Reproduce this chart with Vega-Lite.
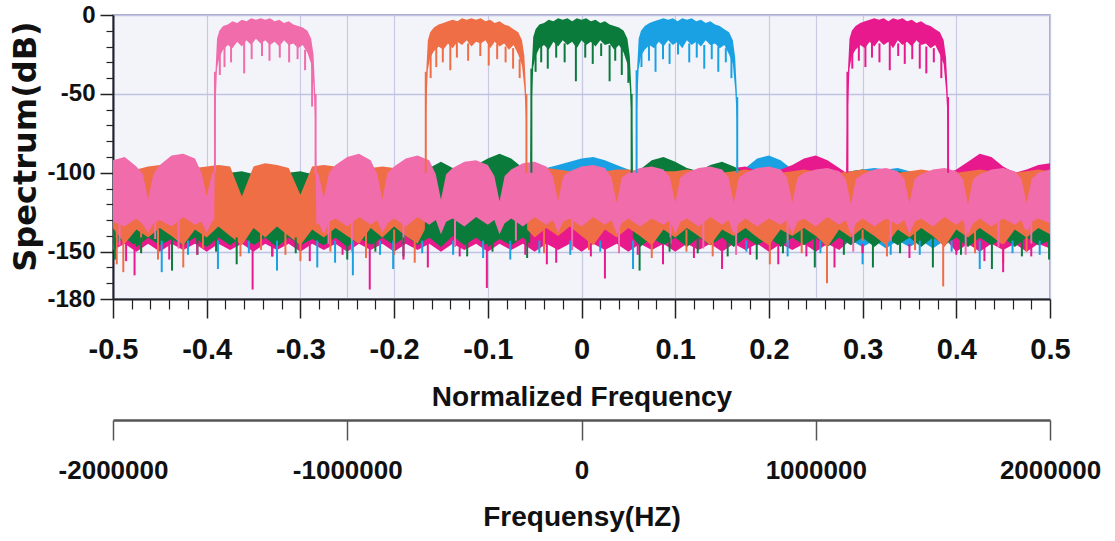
{
"$schema": "https://vega.github.io/schema/vega-lite/v6.json",
"width": 937, "height": 284,
"autosize": "none",
"padding": {"left": 113, "top": 15, "right": 65, "bottom": 242},
"background": "white",
"config": {"view": {"fill": "#F3F4FA", "stroke": "#8A90B8", "strokeWidth": 1.5}},
"datasets": {
"floor": [
{"s":"P","f":-0.5,"hi":-92,"lo":-131},{"s":"P","f":-0.4875,"hi":-90,"lo":-134},{"s":"P","f":-0.475,"hi":-96,"lo":-129},{"s":"P","f":-0.468,"hi":-101,"lo":-133},{"s":"P","f":-0.4625,"hi":-117,"lo":-138},{"s":"P","f":-0.457,"hi":-101,"lo":-132},{"s":"P","f":-0.45,"hi":-95,"lo":-130},{"s":"P","f":-0.4375,"hi":-89,"lo":-134},{"s":"P","f":-0.425,"hi":-88,"lo":-128},{"s":"P","f":-0.4125,"hi":-91,"lo":-133},{"s":"P","f":-0.4055,"hi":-100,"lo":-131},{"s":"P","f":-0.4,"hi":-115,"lo":-138},{"s":"P","f":-0.3945,"hi":-101,"lo":-131},{"s":"P","f":-0.392,"hi":-99,"lo":-130},
{"s":"P","f":-0.3908,"hi":-38,"lo":-62},{"s":"P","f":-0.389,"hi":-15,"lo":-34},{"s":"P","f":-0.3865,"hi":-10,"lo":-27},{"s":"P","f":-0.3825,"hi":-7,"lo":-22},{"s":"P","f":-0.3775,"hi":-6,"lo":-19},{"s":"P","f":-0.3725,"hi":-4,"lo":-21},{"s":"P","f":-0.3675,"hi":-5,"lo":-17},{"s":"P","f":-0.3625,"hi":-3,"lo":-20},{"s":"P","f":-0.3575,"hi":-4,"lo":-16},{"s":"P","f":-0.3525,"hi":-2,"lo":-19},{"s":"P","f":-0.3475,"hi":-3,"lo":-15},{"s":"P","f":-0.3425,"hi":-2,"lo":-18},{"s":"P","f":-0.3375,"hi":-3,"lo":-16},{"s":"P","f":-0.3325,"hi":-2,"lo":-19},{"s":"P","f":-0.3275,"hi":-4,"lo":-17},{"s":"P","f":-0.3225,"hi":-3,"lo":-20},{"s":"P","f":-0.3175,"hi":-5,"lo":-16},{"s":"P","f":-0.3125,"hi":-4,"lo":-19},{"s":"P","f":-0.3075,"hi":-6,"lo":-18},{"s":"P","f":-0.3025,"hi":-7,"lo":-21},{"s":"P","f":-0.2975,"hi":-8,"lo":-19},{"s":"P","f":-0.2925,"hi":-10,"lo":-24},{"s":"P","f":-0.2885,"hi":-15,"lo":-31},{"s":"P","f":-0.286,"hi":-25,"lo":-45},{"s":"P","f":-0.2843,"hi":-48,"lo":-66},
{"s":"P","f":-0.283,"hi":-100,"lo":-133},{"s":"P","f":-0.2805,"hi":-101,"lo":-132},{"s":"P","f":-0.275,"hi":-116,"lo":-139},{"s":"P","f":-0.2695,"hi":-100,"lo":-131},{"s":"P","f":-0.2625,"hi":-95,"lo":-129},{"s":"P","f":-0.25,"hi":-90,"lo":-134},{"s":"P","f":-0.2375,"hi":-88,"lo":-128},{"s":"P","f":-0.225,"hi":-92,"lo":-133},{"s":"P","f":-0.218,"hi":-101,"lo":-130},{"s":"P","f":-0.2125,"hi":-117,"lo":-138},{"s":"P","f":-0.207,"hi":-100,"lo":-132},{"s":"P","f":-0.2,"hi":-96,"lo":-129},{"s":"P","f":-0.1875,"hi":-91,"lo":-134},{"s":"P","f":-0.175,"hi":-89,"lo":-128},{"s":"P","f":-0.1625,"hi":-92,"lo":-133},{"s":"P","f":-0.1555,"hi":-101,"lo":-130},{"s":"P","f":-0.15,"hi":-117,"lo":-139},{"s":"P","f":-0.1445,"hi":-101,"lo":-131},{"s":"P","f":-0.1375,"hi":-97,"lo":-129},{"s":"P","f":-0.125,"hi":-93,"lo":-134},{"s":"P","f":-0.1125,"hi":-92,"lo":-128},{"s":"P","f":-0.1,"hi":-95,"lo":-133},{"s":"P","f":-0.093,"hi":-102,"lo":-130},{"s":"P","f":-0.0875,"hi":-118,"lo":-139},{"s":"P","f":-0.082,"hi":-102,"lo":-132},{"s":"P","f":-0.075,"hi":-98,"lo":-129},{"s":"P","f":-0.0625,"hi":-94,"lo":-134},{"s":"P","f":-0.05,"hi":-93,"lo":-128},{"s":"P","f":-0.0375,"hi":-96,"lo":-133},{"s":"P","f":-0.0305,"hi":-102,"lo":-130},{"s":"P","f":-0.025,"hi":-118,"lo":-138},{"s":"P","f":-0.0195,"hi":-102,"lo":-131},{"s":"P","f":-0.0125,"hi":-99,"lo":-129},{"s":"P","f":0,"hi":-96,"lo":-134},{"s":"P","f":0.0125,"hi":-95,"lo":-128},{"s":"P","f":0.025,"hi":-97,"lo":-133},{"s":"P","f":0.032,"hi":-103,"lo":-130},{"s":"P","f":0.0375,"hi":-119,"lo":-139},{"s":"P","f":0.043,"hi":-103,"lo":-132},{"s":"P","f":0.05,"hi":-100,"lo":-129},{"s":"P","f":0.0625,"hi":-97,"lo":-134},{"s":"P","f":0.075,"hi":-96,"lo":-129},{"s":"P","f":0.0875,"hi":-98,"lo":-133},{"s":"P","f":0.0945,"hi":-103,"lo":-130},{"s":"P","f":0.1,"hi":-119,"lo":-139},{"s":"P","f":0.1055,"hi":-103,"lo":-131},{"s":"P","f":0.1125,"hi":-100,"lo":-129},{"s":"P","f":0.125,"hi":-97,"lo":-134},{"s":"P","f":0.1375,"hi":-96,"lo":-128},{"s":"P","f":0.15,"hi":-98,"lo":-133},{"s":"P","f":0.157,"hi":-103,"lo":-130},{"s":"P","f":0.1625,"hi":-119,"lo":-139},{"s":"P","f":0.168,"hi":-103,"lo":-132},{"s":"P","f":0.175,"hi":-100,"lo":-129},{"s":"P","f":0.1875,"hi":-97,"lo":-134},{"s":"P","f":0.2,"hi":-96,"lo":-129},{"s":"P","f":0.2125,"hi":-98,"lo":-133},{"s":"P","f":0.2195,"hi":-103,"lo":-130},{"s":"P","f":0.225,"hi":-119,"lo":-139},{"s":"P","f":0.2305,"hi":-103,"lo":-131},{"s":"P","f":0.2375,"hi":-100,"lo":-129},{"s":"P","f":0.25,"hi":-98,"lo":-134},{"s":"P","f":0.2625,"hi":-97,"lo":-128},{"s":"P","f":0.275,"hi":-99,"lo":-133},{"s":"P","f":0.282,"hi":-104,"lo":-130},{"s":"P","f":0.2875,"hi":-120,"lo":-139},{"s":"P","f":0.293,"hi":-104,"lo":-132},{"s":"P","f":0.3,"hi":-101,"lo":-129},{"s":"P","f":0.3125,"hi":-98,"lo":-134},{"s":"P","f":0.325,"hi":-97,"lo":-129},{"s":"P","f":0.3375,"hi":-99,"lo":-133},{"s":"P","f":0.3445,"hi":-104,"lo":-130},{"s":"P","f":0.35,"hi":-119,"lo":-139},{"s":"P","f":0.3555,"hi":-104,"lo":-131},{"s":"P","f":0.3625,"hi":-101,"lo":-129},{"s":"P","f":0.375,"hi":-98,"lo":-134},{"s":"P","f":0.3875,"hi":-97,"lo":-128},{"s":"P","f":0.4,"hi":-99,"lo":-133},{"s":"P","f":0.407,"hi":-104,"lo":-130},{"s":"P","f":0.4125,"hi":-120,"lo":-139},{"s":"P","f":0.418,"hi":-104,"lo":-132},{"s":"P","f":0.425,"hi":-101,"lo":-129},{"s":"P","f":0.4375,"hi":-98,"lo":-134},{"s":"P","f":0.45,"hi":-97,"lo":-129},{"s":"P","f":0.4625,"hi":-99,"lo":-133},{"s":"P","f":0.4695,"hi":-104,"lo":-130},{"s":"P","f":0.475,"hi":-119,"lo":-139},{"s":"P","f":0.4805,"hi":-104,"lo":-131},{"s":"P","f":0.4875,"hi":-100,"lo":-129},{"s":"P","f":0.5,"hi":-98,"lo":-132},

{"s":"O","f":-0.5,"hi":-97,"lo":-135},{"s":"O","f":-0.4875,"hi":-113,"lo":-145},{"s":"O","f":-0.475,"hi":-98,"lo":-136},{"s":"O","f":-0.4625,"hi":-96,"lo":-141},{"s":"O","f":-0.45,"hi":-95,"lo":-135},{"s":"O","f":-0.4375,"hi":-96,"lo":-140},{"s":"O","f":-0.425,"hi":-114,"lo":-146},{"s":"O","f":-0.4125,"hi":-97,"lo":-136},{"s":"O","f":-0.4,"hi":-96,"lo":-141},{"s":"O","f":-0.3875,"hi":-95,"lo":-134},{"s":"O","f":-0.375,"hi":-96,"lo":-140},{"s":"O","f":-0.3625,"hi":-115,"lo":-146},{"s":"O","f":-0.35,"hi":-96,"lo":-135},{"s":"O","f":-0.3375,"hi":-94,"lo":-141},{"s":"O","f":-0.325,"hi":-95,"lo":-134},{"s":"O","f":-0.3125,"hi":-97,"lo":-140},{"s":"O","f":-0.3,"hi":-114,"lo":-146},{"s":"O","f":-0.2875,"hi":-96,"lo":-136},{"s":"O","f":-0.275,"hi":-95,"lo":-141},{"s":"O","f":-0.2625,"hi":-96,"lo":-135},{"s":"O","f":-0.25,"hi":-97,"lo":-140},{"s":"O","f":-0.2375,"hi":-114,"lo":-145},{"s":"O","f":-0.225,"hi":-97,"lo":-135},{"s":"O","f":-0.2125,"hi":-96,"lo":-141},{"s":"O","f":-0.2,"hi":-97,"lo":-134},{"s":"O","f":-0.1875,"hi":-98,"lo":-140},{"s":"O","f":-0.175,"hi":-112,"lo":-145},{"s":"O","f":-0.1672,"hi":-99,"lo":-136},
{"s":"O","f":-0.1658,"hi":-37,"lo":-60},{"s":"O","f":-0.164,"hi":-16,"lo":-35},{"s":"O","f":-0.1615,"hi":-11,"lo":-27},{"s":"O","f":-0.1575,"hi":-8,"lo":-23},{"s":"O","f":-0.1525,"hi":-6,"lo":-20},{"s":"O","f":-0.1475,"hi":-5,"lo":-22},{"s":"O","f":-0.1425,"hi":-4,"lo":-18},{"s":"O","f":-0.1375,"hi":-3,"lo":-21},{"s":"O","f":-0.1325,"hi":-4,"lo":-17},{"s":"O","f":-0.1275,"hi":-2,"lo":-19},{"s":"O","f":-0.1225,"hi":-3,"lo":-16},{"s":"O","f":-0.1175,"hi":-2,"lo":-20},{"s":"O","f":-0.1125,"hi":-3,"lo":-17},{"s":"O","f":-0.1075,"hi":-2,"lo":-18},{"s":"O","f":-0.1025,"hi":-4,"lo":-16},{"s":"O","f":-0.0975,"hi":-3,"lo":-21},{"s":"O","f":-0.0925,"hi":-5,"lo":-17},{"s":"O","f":-0.0875,"hi":-4,"lo":-20},{"s":"O","f":-0.0825,"hi":-6,"lo":-18},{"s":"O","f":-0.0775,"hi":-7,"lo":-22},{"s":"O","f":-0.0725,"hi":-9,"lo":-19},{"s":"O","f":-0.0675,"hi":-11,"lo":-25},{"s":"O","f":-0.0635,"hi":-16,"lo":-32},{"s":"O","f":-0.061,"hi":-26,"lo":-46},{"s":"O","f":-0.0593,"hi":-47,"lo":-64},
{"s":"O","f":-0.058,"hi":-99,"lo":-136},{"s":"O","f":-0.05,"hi":-98,"lo":-141},{"s":"O","f":-0.0375,"hi":-97,"lo":-135},{"s":"O","f":-0.025,"hi":-98,"lo":-140},{"s":"O","f":-0.0125,"hi":-99,"lo":-134},{"s":"O","f":0,"hi":-98,"lo":-140},{"s":"O","f":0.0125,"hi":-115,"lo":-146},{"s":"O","f":0.025,"hi":-99,"lo":-136},{"s":"O","f":0.0375,"hi":-98,"lo":-141},{"s":"O","f":0.05,"hi":-98,"lo":-135},{"s":"O","f":0.0625,"hi":-99,"lo":-140},{"s":"O","f":0.075,"hi":-115,"lo":-146},{"s":"O","f":0.0875,"hi":-99,"lo":-136},{"s":"O","f":0.1,"hi":-99,"lo":-141},{"s":"O","f":0.1125,"hi":-98,"lo":-135},{"s":"O","f":0.125,"hi":-99,"lo":-140},{"s":"O","f":0.1375,"hi":-116,"lo":-146},{"s":"O","f":0.15,"hi":-100,"lo":-136},{"s":"O","f":0.1625,"hi":-99,"lo":-140},{"s":"O","f":0.175,"hi":-98,"lo":-135},{"s":"O","f":0.1875,"hi":-99,"lo":-141},{"s":"O","f":0.2,"hi":-116,"lo":-146},{"s":"O","f":0.2125,"hi":-100,"lo":-136},{"s":"O","f":0.225,"hi":-99,"lo":-140},{"s":"O","f":0.2375,"hi":-98,"lo":-135},{"s":"O","f":0.25,"hi":-99,"lo":-140},{"s":"O","f":0.2625,"hi":-116,"lo":-147},{"s":"O","f":0.275,"hi":-100,"lo":-136},{"s":"O","f":0.2875,"hi":-99,"lo":-141},{"s":"O","f":0.3,"hi":-98,"lo":-135},{"s":"O","f":0.3125,"hi":-99,"lo":-140},{"s":"O","f":0.325,"hi":-116,"lo":-146},{"s":"O","f":0.3375,"hi":-100,"lo":-136},{"s":"O","f":0.35,"hi":-99,"lo":-141},{"s":"O","f":0.3625,"hi":-98,"lo":-135},{"s":"O","f":0.375,"hi":-99,"lo":-140},{"s":"O","f":0.3875,"hi":-116,"lo":-147},{"s":"O","f":0.4,"hi":-100,"lo":-136},{"s":"O","f":0.4125,"hi":-99,"lo":-141},{"s":"O","f":0.425,"hi":-98,"lo":-135},{"s":"O","f":0.4375,"hi":-99,"lo":-140},{"s":"O","f":0.45,"hi":-116,"lo":-146},{"s":"O","f":0.4625,"hi":-100,"lo":-136},{"s":"O","f":0.475,"hi":-99,"lo":-141},{"s":"O","f":0.4875,"hi":-98,"lo":-135},{"s":"O","f":0.5,"hi":-99,"lo":-139},

{"s":"G","f":-0.5,"hi":-101,"lo":-146},{"s":"G","f":-0.4875,"hi":-100,"lo":-141},{"s":"G","f":-0.475,"hi":-102,"lo":-147},{"s":"G","f":-0.4625,"hi":-99,"lo":-141},{"s":"G","f":-0.45,"hi":-101,"lo":-146},{"s":"G","f":-0.4375,"hi":-100,"lo":-142},{"s":"G","f":-0.425,"hi":-102,"lo":-146},{"s":"G","f":-0.4125,"hi":-100,"lo":-141},{"s":"G","f":-0.4,"hi":-99,"lo":-147},{"s":"G","f":-0.3875,"hi":-101,"lo":-141},{"s":"G","f":-0.375,"hi":-100,"lo":-146},{"s":"G","f":-0.3625,"hi":-99,"lo":-140},{"s":"G","f":-0.35,"hi":-101,"lo":-146},{"s":"G","f":-0.3375,"hi":-100,"lo":-141},{"s":"G","f":-0.325,"hi":-102,"lo":-147},{"s":"G","f":-0.3125,"hi":-100,"lo":-141},{"s":"G","f":-0.3,"hi":-99,"lo":-146},{"s":"G","f":-0.2875,"hi":-101,"lo":-142},{"s":"G","f":-0.275,"hi":-100,"lo":-146},{"s":"G","f":-0.2625,"hi":-102,"lo":-141},{"s":"G","f":-0.25,"hi":-100,"lo":-147},{"s":"G","f":-0.2375,"hi":-101,"lo":-141},{"s":"G","f":-0.225,"hi":-99,"lo":-146},{"s":"G","f":-0.2125,"hi":-100,"lo":-141},{"s":"G","f":-0.2,"hi":-102,"lo":-146},{"s":"G","f":-0.1875,"hi":-100,"lo":-140},{"s":"G","f":-0.175,"hi":-99,"lo":-146},{"s":"G","f":-0.1625,"hi":-97,"lo":-141},{"s":"G","f":-0.15,"hi":-93,"lo":-147},{"s":"G","f":-0.1375,"hi":-97,"lo":-140},{"s":"G","f":-0.125,"hi":-98,"lo":-146},{"s":"G","f":-0.1125,"hi":-95,"lo":-141},{"s":"G","f":-0.1,"hi":-91,"lo":-147},{"s":"G","f":-0.0875,"hi":-88,"lo":-142},{"s":"G","f":-0.075,"hi":-91,"lo":-146},{"s":"G","f":-0.0625,"hi":-97,"lo":-141},{"s":"G","f":-0.0548,"hi":-100,"lo":-145},
{"s":"G","f":-0.0533,"hi":-35,"lo":-58},{"s":"G","f":-0.0515,"hi":-14,"lo":-33},{"s":"G","f":-0.049,"hi":-9,"lo":-26},{"s":"G","f":-0.045,"hi":-6,"lo":-21},{"s":"G","f":-0.04,"hi":-5,"lo":-19},{"s":"G","f":-0.035,"hi":-3,"lo":-22},{"s":"G","f":-0.03,"hi":-4,"lo":-17},{"s":"G","f":-0.025,"hi":-2,"lo":-20},{"s":"G","f":-0.02,"hi":-3,"lo":-16},{"s":"G","f":-0.015,"hi":-2,"lo":-19},{"s":"G","f":-0.01,"hi":-4,"lo":-17},{"s":"G","f":-0.005,"hi":-2,"lo":-21},{"s":"G","f":0,"hi":-3,"lo":-16},{"s":"G","f":0.005,"hi":-2,"lo":-19},{"s":"G","f":0.01,"hi":-4,"lo":-17},{"s":"G","f":0.015,"hi":-3,"lo":-20},{"s":"G","f":0.02,"hi":-5,"lo":-16},{"s":"G","f":0.025,"hi":-4,"lo":-19},{"s":"G","f":0.03,"hi":-6,"lo":-18},{"s":"G","f":0.035,"hi":-7,"lo":-22},{"s":"G","f":0.04,"hi":-8,"lo":-19},{"s":"G","f":0.045,"hi":-10,"lo":-24},{"s":"G","f":0.049,"hi":-15,"lo":-31},{"s":"G","f":0.0515,"hi":-26,"lo":-45},{"s":"G","f":0.0533,"hi":-48,"lo":-65},
{"s":"G","f":0.0548,"hi":-100,"lo":-141},{"s":"G","f":0.0625,"hi":-98,"lo":-147},{"s":"G","f":0.075,"hi":-92,"lo":-141},{"s":"G","f":0.0875,"hi":-90,"lo":-146},{"s":"G","f":0.1,"hi":-93,"lo":-141},{"s":"G","f":0.1125,"hi":-97,"lo":-147},{"s":"G","f":0.125,"hi":-99,"lo":-141},{"s":"G","f":0.1375,"hi":-95,"lo":-146},{"s":"G","f":0.15,"hi":-93,"lo":-141},{"s":"G","f":0.1625,"hi":-96,"lo":-147},{"s":"G","f":0.175,"hi":-100,"lo":-141},{"s":"G","f":0.1875,"hi":-101,"lo":-146},{"s":"G","f":0.2,"hi":-100,"lo":-141},{"s":"G","f":0.2125,"hi":-102,"lo":-147},{"s":"G","f":0.225,"hi":-100,"lo":-141},{"s":"G","f":0.2375,"hi":-99,"lo":-146},{"s":"G","f":0.25,"hi":-101,"lo":-141},{"s":"G","f":0.2625,"hi":-100,"lo":-147},{"s":"G","f":0.275,"hi":-102,"lo":-141},{"s":"G","f":0.2875,"hi":-99,"lo":-146},{"s":"G","f":0.3,"hi":-98,"lo":-141},{"s":"G","f":0.3125,"hi":-100,"lo":-147},{"s":"G","f":0.325,"hi":-101,"lo":-141},{"s":"G","f":0.3375,"hi":-99,"lo":-146},{"s":"G","f":0.35,"hi":-100,"lo":-141},{"s":"G","f":0.3625,"hi":-102,"lo":-147},{"s":"G","f":0.375,"hi":-100,"lo":-141},{"s":"G","f":0.3875,"hi":-99,"lo":-146},{"s":"G","f":0.4,"hi":-101,"lo":-141},{"s":"G","f":0.4125,"hi":-100,"lo":-147},{"s":"G","f":0.425,"hi":-102,"lo":-141},{"s":"G","f":0.4375,"hi":-100,"lo":-146},{"s":"G","f":0.45,"hi":-99,"lo":-141},{"s":"G","f":0.4625,"hi":-101,"lo":-147},{"s":"G","f":0.475,"hi":-100,"lo":-141},{"s":"G","f":0.4875,"hi":-102,"lo":-146},{"s":"G","f":0.5,"hi":-100,"lo":-143},

{"s":"B","f":-0.5,"hi":-103,"lo":-147},{"s":"B","f":-0.4875,"hi":-102,"lo":-143},{"s":"B","f":-0.475,"hi":-104,"lo":-148},{"s":"B","f":-0.4625,"hi":-102,"lo":-143},{"s":"B","f":-0.45,"hi":-103,"lo":-148},{"s":"B","f":-0.4375,"hi":-101,"lo":-143},{"s":"B","f":-0.425,"hi":-103,"lo":-147},{"s":"B","f":-0.4125,"hi":-102,"lo":-143},{"s":"B","f":-0.4,"hi":-101,"lo":-148},{"s":"B","f":-0.3875,"hi":-103,"lo":-143},{"s":"B","f":-0.375,"hi":-102,"lo":-147},{"s":"B","f":-0.3625,"hi":-101,"lo":-143},{"s":"B","f":-0.35,"hi":-103,"lo":-148},{"s":"B","f":-0.3375,"hi":-102,"lo":-143},{"s":"B","f":-0.325,"hi":-104,"lo":-148},{"s":"B","f":-0.3125,"hi":-102,"lo":-143},{"s":"B","f":-0.3,"hi":-100,"lo":-147},{"s":"B","f":-0.2875,"hi":-102,"lo":-143},{"s":"B","f":-0.275,"hi":-103,"lo":-148},{"s":"B","f":-0.2625,"hi":-101,"lo":-143},{"s":"B","f":-0.25,"hi":-102,"lo":-147},{"s":"B","f":-0.2375,"hi":-103,"lo":-143},{"s":"B","f":-0.225,"hi":-101,"lo":-148},{"s":"B","f":-0.2125,"hi":-102,"lo":-143},{"s":"B","f":-0.2,"hi":-104,"lo":-147},{"s":"B","f":-0.1875,"hi":-102,"lo":-143},{"s":"B","f":-0.175,"hi":-101,"lo":-148},{"s":"B","f":-0.1625,"hi":-102,"lo":-143},{"s":"B","f":-0.15,"hi":-103,"lo":-147},{"s":"B","f":-0.1375,"hi":-101,"lo":-143},{"s":"B","f":-0.125,"hi":-102,"lo":-148},{"s":"B","f":-0.1125,"hi":-103,"lo":-143},{"s":"B","f":-0.1,"hi":-101,"lo":-147},{"s":"B","f":-0.0875,"hi":-102,"lo":-143},{"s":"B","f":-0.075,"hi":-100,"lo":-148},{"s":"B","f":-0.0625,"hi":-99,"lo":-143},{"s":"B","f":-0.05,"hi":-98,"lo":-147},{"s":"B","f":-0.0375,"hi":-97,"lo":-143},{"s":"B","f":-0.025,"hi":-95,"lo":-148},{"s":"B","f":-0.0125,"hi":-93,"lo":-143},{"s":"B","f":0,"hi":-91,"lo":-147},{"s":"B","f":0.0125,"hi":-90,"lo":-143},{"s":"B","f":0.025,"hi":-92,"lo":-148},{"s":"B","f":0.0375,"hi":-95,"lo":-143},{"s":"B","f":0.05,"hi":-98,"lo":-147},{"s":"B","f":0.058,"hi":-100,"lo":-143},
{"s":"B","f":0.0592,"hi":-36,"lo":-60},{"s":"B","f":0.061,"hi":-15,"lo":-34},{"s":"B","f":0.0635,"hi":-10,"lo":-26},{"s":"B","f":0.0675,"hi":-7,"lo":-22},{"s":"B","f":0.0725,"hi":-5,"lo":-19},{"s":"B","f":0.0775,"hi":-4,"lo":-21},{"s":"B","f":0.0825,"hi":-3,"lo":-17},{"s":"B","f":0.0875,"hi":-2,"lo":-20},{"s":"B","f":0.0925,"hi":-3,"lo":-16},{"s":"B","f":0.0975,"hi":-2,"lo":-19},{"s":"B","f":0.1025,"hi":-4,"lo":-17},{"s":"B","f":0.1075,"hi":-2,"lo":-21},{"s":"B","f":0.1125,"hi":-3,"lo":-16},{"s":"B","f":0.1175,"hi":-2,"lo":-19},{"s":"B","f":0.1225,"hi":-4,"lo":-17},{"s":"B","f":0.1275,"hi":-3,"lo":-20},{"s":"B","f":0.1325,"hi":-5,"lo":-16},{"s":"B","f":0.1375,"hi":-4,"lo":-19},{"s":"B","f":0.1425,"hi":-6,"lo":-18},{"s":"B","f":0.1475,"hi":-7,"lo":-21},{"s":"B","f":0.1525,"hi":-9,"lo":-19},{"s":"B","f":0.1575,"hi":-11,"lo":-25},{"s":"B","f":0.1615,"hi":-16,"lo":-31},{"s":"B","f":0.164,"hi":-27,"lo":-47},{"s":"B","f":0.1658,"hi":-49,"lo":-66},
{"s":"B","f":0.167,"hi":-100,"lo":-143},{"s":"B","f":0.175,"hi":-97,"lo":-148},{"s":"B","f":0.1875,"hi":-91,"lo":-143},{"s":"B","f":0.2,"hi":-89,"lo":-147},{"s":"B","f":0.2125,"hi":-92,"lo":-143},{"s":"B","f":0.225,"hi":-98,"lo":-148},{"s":"B","f":0.2375,"hi":-101,"lo":-143},{"s":"B","f":0.25,"hi":-102,"lo":-147},{"s":"B","f":0.2625,"hi":-101,"lo":-143},{"s":"B","f":0.275,"hi":-100,"lo":-148},{"s":"B","f":0.2875,"hi":-99,"lo":-143},{"s":"B","f":0.3,"hi":-98,"lo":-147},{"s":"B","f":0.3125,"hi":-97,"lo":-143},{"s":"B","f":0.325,"hi":-98,"lo":-148},{"s":"B","f":0.3375,"hi":-97,"lo":-143},{"s":"B","f":0.35,"hi":-99,"lo":-147},{"s":"B","f":0.3625,"hi":-100,"lo":-143},{"s":"B","f":0.375,"hi":-101,"lo":-148},{"s":"B","f":0.3875,"hi":-102,"lo":-143},{"s":"B","f":0.4,"hi":-101,"lo":-147},{"s":"B","f":0.4125,"hi":-103,"lo":-143},{"s":"B","f":0.425,"hi":-102,"lo":-148},{"s":"B","f":0.4375,"hi":-101,"lo":-143},{"s":"B","f":0.45,"hi":-103,"lo":-147},{"s":"B","f":0.4625,"hi":-102,"lo":-143},{"s":"B","f":0.475,"hi":-101,"lo":-148},{"s":"B","f":0.4875,"hi":-100,"lo":-143},{"s":"B","f":0.5,"hi":-101,"lo":-146},

{"s":"M","f":-0.5,"hi":-102,"lo":-149},{"s":"M","f":-0.4875,"hi":-101,"lo":-145},{"s":"M","f":-0.475,"hi":-100,"lo":-150},{"s":"M","f":-0.4625,"hi":-101,"lo":-145},{"s":"M","f":-0.45,"hi":-98,"lo":-150},{"s":"M","f":-0.4375,"hi":-101,"lo":-145},{"s":"M","f":-0.425,"hi":-103,"lo":-149},{"s":"M","f":-0.4125,"hi":-100,"lo":-145},{"s":"M","f":-0.4,"hi":-102,"lo":-150},{"s":"M","f":-0.3875,"hi":-101,"lo":-145},{"s":"M","f":-0.375,"hi":-103,"lo":-149},{"s":"M","f":-0.3625,"hi":-102,"lo":-145},{"s":"M","f":-0.35,"hi":-101,"lo":-150},{"s":"M","f":-0.3375,"hi":-103,"lo":-145},{"s":"M","f":-0.325,"hi":-102,"lo":-149},{"s":"M","f":-0.3125,"hi":-100,"lo":-145},{"s":"M","f":-0.3,"hi":-102,"lo":-150},{"s":"M","f":-0.2875,"hi":-101,"lo":-145},{"s":"M","f":-0.275,"hi":-103,"lo":-149},{"s":"M","f":-0.2625,"hi":-102,"lo":-145},{"s":"M","f":-0.25,"hi":-100,"lo":-150},{"s":"M","f":-0.2375,"hi":-99,"lo":-145},{"s":"M","f":-0.225,"hi":-101,"lo":-149},{"s":"M","f":-0.2125,"hi":-102,"lo":-145},{"s":"M","f":-0.2,"hi":-103,"lo":-150},{"s":"M","f":-0.1875,"hi":-101,"lo":-145},{"s":"M","f":-0.175,"hi":-102,"lo":-149},{"s":"M","f":-0.1625,"hi":-100,"lo":-145},{"s":"M","f":-0.15,"hi":-101,"lo":-150},{"s":"M","f":-0.1375,"hi":-103,"lo":-145},{"s":"M","f":-0.125,"hi":-102,"lo":-149},{"s":"M","f":-0.1125,"hi":-101,"lo":-145},{"s":"M","f":-0.1,"hi":-103,"lo":-150},{"s":"M","f":-0.0875,"hi":-102,"lo":-145},{"s":"M","f":-0.075,"hi":-100,"lo":-149},{"s":"M","f":-0.0625,"hi":-101,"lo":-145},{"s":"M","f":-0.05,"hi":-102,"lo":-150},{"s":"M","f":-0.0375,"hi":-100,"lo":-145},{"s":"M","f":-0.025,"hi":-101,"lo":-149},{"s":"M","f":-0.0125,"hi":-103,"lo":-145},{"s":"M","f":0,"hi":-102,"lo":-150},{"s":"M","f":0.0125,"hi":-101,"lo":-145},{"s":"M","f":0.025,"hi":-100,"lo":-149},{"s":"M","f":0.0375,"hi":-102,"lo":-145},{"s":"M","f":0.05,"hi":-101,"lo":-150},{"s":"M","f":0.0625,"hi":-103,"lo":-145},{"s":"M","f":0.075,"hi":-102,"lo":-149},{"s":"M","f":0.0875,"hi":-100,"lo":-145},{"s":"M","f":0.1,"hi":-101,"lo":-150},{"s":"M","f":0.1125,"hi":-102,"lo":-145},{"s":"M","f":0.125,"hi":-100,"lo":-149},{"s":"M","f":0.1375,"hi":-99,"lo":-145},{"s":"M","f":0.15,"hi":-98,"lo":-150},{"s":"M","f":0.1625,"hi":-97,"lo":-145},{"s":"M","f":0.175,"hi":-96,"lo":-149},{"s":"M","f":0.1875,"hi":-99,"lo":-145},{"s":"M","f":0.2,"hi":-101,"lo":-150},{"s":"M","f":0.2125,"hi":-98,"lo":-145},{"s":"M","f":0.225,"hi":-95,"lo":-149},{"s":"M","f":0.2375,"hi":-91,"lo":-145},{"s":"M","f":0.25,"hi":-89,"lo":-150},{"s":"M","f":0.2625,"hi":-92,"lo":-145},{"s":"M","f":0.275,"hi":-97,"lo":-149},{"s":"M","f":0.2825,"hi":-100,"lo":-145},
{"s":"M","f":0.2842,"hi":-37,"lo":-61},{"s":"M","f":0.286,"hi":-15,"lo":-34},{"s":"M","f":0.2885,"hi":-10,"lo":-26},{"s":"M","f":0.2925,"hi":-7,"lo":-22},{"s":"M","f":0.2975,"hi":-5,"lo":-19},{"s":"M","f":0.3025,"hi":-4,"lo":-21},{"s":"M","f":0.3075,"hi":-3,"lo":-17},{"s":"M","f":0.3125,"hi":-2,"lo":-20},{"s":"M","f":0.3175,"hi":-3,"lo":-16},{"s":"M","f":0.3225,"hi":-2,"lo":-19},{"s":"M","f":0.3275,"hi":-4,"lo":-17},{"s":"M","f":0.3325,"hi":-2,"lo":-21},{"s":"M","f":0.3375,"hi":-3,"lo":-16},{"s":"M","f":0.3425,"hi":-2,"lo":-19},{"s":"M","f":0.3475,"hi":-4,"lo":-17},{"s":"M","f":0.3525,"hi":-3,"lo":-20},{"s":"M","f":0.3575,"hi":-5,"lo":-16},{"s":"M","f":0.3625,"hi":-4,"lo":-19},{"s":"M","f":0.3675,"hi":-6,"lo":-18},{"s":"M","f":0.3725,"hi":-7,"lo":-21},{"s":"M","f":0.3775,"hi":-9,"lo":-19},{"s":"M","f":0.3825,"hi":-11,"lo":-25},{"s":"M","f":0.3865,"hi":-16,"lo":-31},{"s":"M","f":0.389,"hi":-27,"lo":-47},{"s":"M","f":0.3908,"hi":-49,"lo":-66},
{"s":"M","f":0.3925,"hi":-100,"lo":-145},{"s":"M","f":0.4,"hi":-98,"lo":-150},{"s":"M","f":0.4125,"hi":-93,"lo":-145},{"s":"M","f":0.425,"hi":-88,"lo":-150},{"s":"M","f":0.4375,"hi":-90,"lo":-145},{"s":"M","f":0.45,"hi":-96,"lo":-149},{"s":"M","f":0.4625,"hi":-100,"lo":-145},{"s":"M","f":0.475,"hi":-98,"lo":-150},{"s":"M","f":0.4875,"hi":-95,"lo":-145},{"s":"M","f":0.5,"hi":-94,"lo":-148}
],
"lines": [
{"s":"P","f":-0.3912,"hi":-36,"lo":-100},{"s":"P","f":-0.2838,"hi":-50,"lo":-101},
{"s":"P","f":-0.386,"hi":-20,"lo":-38},{"s":"P","f":-0.381,"hi":-18,"lo":-33},{"s":"P","f":-0.374,"hi":-18,"lo":-30},{"s":"P","f":-0.36,"hi":-17,"lo":-37},{"s":"P","f":-0.352,"hi":-18,"lo":-28},{"s":"P","f":-0.341,"hi":-16,"lo":-26},{"s":"P","f":-0.333,"hi":-17,"lo":-29},{"s":"P","f":-0.322,"hi":-19,"lo":-27},{"s":"P","f":-0.312,"hi":-17,"lo":-30},{"s":"P","f":-0.303,"hi":-19,"lo":-28},{"s":"P","f":-0.295,"hi":-22,"lo":-35},{"s":"P","f":-0.2875,"hi":-30,"lo":-58},
{"s":"P","f":-0.493,"hi":-130,"lo":-146},{"s":"P","f":-0.455,"hi":-130,"lo":-142},{"s":"P","f":-0.43,"hi":-130,"lo":-148},{"s":"P","f":-0.27,"hi":-130,"lo":-145},{"s":"P","f":-0.245,"hi":-130,"lo":-150},{"s":"P","f":-0.19,"hi":-130,"lo":-144},{"s":"P","f":-0.135,"hi":-130,"lo":-147},{"s":"P","f":-0.07,"hi":-130,"lo":-143},{"s":"P","f":-0.01,"hi":-130,"lo":-149},{"s":"P","f":0.04,"hi":-130,"lo":-151},{"s":"P","f":0.095,"hi":-130,"lo":-145},{"s":"P","f":0.13,"hi":-130,"lo":-148},{"s":"P","f":0.165,"hi":-130,"lo":-152},{"s":"P","f":0.22,"hi":-130,"lo":-146},{"s":"P","f":0.29,"hi":-130,"lo":-150},{"s":"P","f":0.33,"hi":-130,"lo":-144},{"s":"P","f":0.41,"hi":-130,"lo":-152},{"s":"P","f":0.445,"hi":-130,"lo":-147},{"s":"P","f":0.48,"hi":-130,"lo":-145},
{"s":"O","f":-0.1662,"hi":-36,"lo":-100},{"s":"O","f":-0.0588,"hi":-50,"lo":-100},
{"s":"O","f":-0.161,"hi":-22,"lo":-40},{"s":"O","f":-0.155,"hi":-19,"lo":-33},{"s":"O","f":-0.148,"hi":-19,"lo":-30},{"s":"O","f":-0.14,"hi":-18,"lo":-35},{"s":"O","f":-0.133,"hi":-17,"lo":-27},{"s":"O","f":-0.121,"hi":-18,"lo":-29},{"s":"O","f":-0.108,"hi":-17,"lo":-26},{"s":"O","f":-0.099,"hi":-19,"lo":-32},{"s":"O","f":-0.09,"hi":-18,"lo":-28},{"s":"O","f":-0.081,"hi":-20,"lo":-30},{"s":"O","f":-0.073,"hi":-21,"lo":-34},{"s":"O","f":-0.066,"hi":-28,"lo":-40},
{"s":"O","f":-0.496,"hi":-136,"lo":-158},{"s":"O","f":-0.489,"hi":-136,"lo":-163},{"s":"O","f":-0.47,"hi":-136,"lo":-150},{"s":"O","f":-0.452,"hi":-136,"lo":-155},{"s":"O","f":-0.425,"hi":-136,"lo":-160},{"s":"O","f":-0.404,"hi":-136,"lo":-148},{"s":"O","f":-0.364,"hi":-136,"lo":-153},{"s":"O","f":-0.342,"hi":-136,"lo":-149},{"s":"O","f":-0.316,"hi":-136,"lo":-152},{"s":"O","f":-0.3,"hi":-136,"lo":-156},{"s":"O","f":-0.268,"hi":-136,"lo":-150},{"s":"O","f":-0.23,"hi":-136,"lo":-154},{"s":"O","f":-0.2,"hi":-136,"lo":-152},{"s":"O","f":-0.178,"hi":-136,"lo":-157},{"s":"O","f":-0.04,"hi":-136,"lo":-151},{"s":"O","f":0.008,"hi":-136,"lo":-149},{"s":"O","f":0.075,"hi":-136,"lo":-154},{"s":"O","f":0.112,"hi":-136,"lo":-150},{"s":"O","f":0.14,"hi":-136,"lo":-153},{"s":"O","f":0.201,"hi":-136,"lo":-158},{"s":"O","f":0.235,"hi":-136,"lo":-151},{"s":"O","f":0.262,"hi":-136,"lo":-170},{"s":"O","f":0.3,"hi":-136,"lo":-150},{"s":"O","f":0.326,"hi":-136,"lo":-153},{"s":"O","f":0.356,"hi":-136,"lo":-149},{"s":"O","f":0.386,"hi":-136,"lo":-172},{"s":"O","f":0.42,"hi":-136,"lo":-151},{"s":"O","f":0.45,"hi":-136,"lo":-157},{"s":"O","f":0.475,"hi":-136,"lo":-150},
{"s":"G","f":-0.0535,"hi":-34,"lo":-100},{"s":"G","f":0.0535,"hi":-50,"lo":-100},
{"s":"G","f":-0.049,"hi":-20,"lo":-36},{"s":"G","f":-0.043,"hi":-18,"lo":-30},{"s":"G","f":-0.036,"hi":-19,"lo":-34},{"s":"G","f":-0.027,"hi":-17,"lo":-27},{"s":"G","f":-0.018,"hi":-18,"lo":-30},{"s":"G","f":-0.006,"hi":-17,"lo":-42},{"s":"G","f":0.004,"hi":-18,"lo":-27},{"s":"G","f":0.012,"hi":-17,"lo":-31},{"s":"G","f":0.021,"hi":-18,"lo":-26},{"s":"G","f":0.03,"hi":-19,"lo":-42},{"s":"G","f":0.036,"hi":-20,"lo":-29},{"s":"G","f":0.043,"hi":-21,"lo":-38},{"s":"G","f":0.05,"hi":-27,"lo":-43},
{"s":"G","f":-0.498,"hi":-141,"lo":-155},{"s":"G","f":-0.47,"hi":-141,"lo":-151},{"s":"G","f":-0.437,"hi":-141,"lo":-162},{"s":"G","f":-0.41,"hi":-141,"lo":-152},{"s":"G","f":-0.39,"hi":-141,"lo":-150},{"s":"G","f":-0.368,"hi":-141,"lo":-158},{"s":"G","f":-0.33,"hi":-141,"lo":-153},{"s":"G","f":-0.305,"hi":-141,"lo":-151},{"s":"G","f":-0.25,"hi":-141,"lo":-155},{"s":"G","f":-0.22,"hi":-141,"lo":-150},{"s":"G","f":-0.19,"hi":-141,"lo":-153},{"s":"G","f":-0.122,"hi":-141,"lo":-153},{"s":"G","f":-0.095,"hi":-141,"lo":-150},{"s":"G","f":-0.058,"hi":-141,"lo":-154},{"s":"G","f":0.062,"hi":-141,"lo":-162},{"s":"G","f":0.094,"hi":-141,"lo":-150},{"s":"G","f":0.124,"hi":-141,"lo":-151},{"s":"G","f":0.156,"hi":-141,"lo":-153},{"s":"G","f":0.187,"hi":-141,"lo":-155},{"s":"G","f":0.215,"hi":-141,"lo":-151},{"s":"G","f":0.249,"hi":-141,"lo":-160},{"s":"G","f":0.28,"hi":-141,"lo":-152},{"s":"G","f":0.311,"hi":-141,"lo":-160},{"s":"G","f":0.34,"hi":-141,"lo":-151},{"s":"G","f":0.375,"hi":-141,"lo":-160},{"s":"G","f":0.405,"hi":-141,"lo":-152},{"s":"G","f":0.438,"hi":-141,"lo":-161},{"s":"G","f":0.47,"hi":-141,"lo":-153},{"s":"G","f":0.499,"hi":-141,"lo":-155},
{"s":"B","f":0.0588,"hi":-35,"lo":-100},{"s":"B","f":0.1662,"hi":-52,"lo":-100},
{"s":"B","f":0.064,"hi":-20,"lo":-33},{"s":"B","f":0.072,"hi":-18,"lo":-29},{"s":"B","f":0.079,"hi":-19,"lo":-36},{"s":"B","f":0.087,"hi":-17,"lo":-28},{"s":"B","f":0.094,"hi":-18,"lo":-31},{"s":"B","f":0.103,"hi":-17,"lo":-25},{"s":"B","f":0.115,"hi":-18,"lo":-30},{"s":"B","f":0.123,"hi":-17,"lo":-27},{"s":"B","f":0.131,"hi":-19,"lo":-34},{"s":"B","f":0.139,"hi":-18,"lo":-28},{"s":"B","f":0.146,"hi":-20,"lo":-36},{"s":"B","f":0.154,"hi":-21,"lo":-30},{"s":"B","f":0.16,"hi":-25,"lo":-40},
{"s":"B","f":-0.448,"hi":-143,"lo":-163},{"s":"B","f":-0.42,"hi":-143,"lo":-152},{"s":"B","f":-0.388,"hi":-143,"lo":-161},{"s":"B","f":-0.355,"hi":-143,"lo":-151},{"s":"B","f":-0.325,"hi":-143,"lo":-162},{"s":"B","f":-0.282,"hi":-143,"lo":-160},{"s":"B","f":-0.263,"hi":-143,"lo":-157},{"s":"B","f":-0.244,"hi":-143,"lo":-165},{"s":"B","f":-0.215,"hi":-143,"lo":-152},{"s":"B","f":-0.201,"hi":-143,"lo":-161},{"s":"B","f":-0.17,"hi":-143,"lo":-151},{"s":"B","f":-0.137,"hi":-143,"lo":-152},{"s":"B","f":-0.105,"hi":-143,"lo":-154},{"s":"B","f":-0.076,"hi":-143,"lo":-155},{"s":"B","f":-0.045,"hi":-143,"lo":-151},{"s":"B","f":-0.012,"hi":-143,"lo":-152},{"s":"B","f":0.02,"hi":-143,"lo":-150},{"s":"B","f":0.055,"hi":-143,"lo":-161},{"s":"B","f":0.176,"hi":-143,"lo":-150},{"s":"B","f":0.22,"hi":-143,"lo":-153},{"s":"B","f":0.255,"hi":-143,"lo":-151},{"s":"B","f":0.3,"hi":-143,"lo":-158},{"s":"B","f":0.33,"hi":-143,"lo":-152},{"s":"B","f":0.361,"hi":-143,"lo":-152},{"s":"B","f":0.395,"hi":-143,"lo":-150},{"s":"B","f":0.425,"hi":-143,"lo":-161},{"s":"B","f":0.46,"hi":-143,"lo":-151},{"s":"B","f":0.489,"hi":-143,"lo":-152},
{"s":"M","f":0.2838,"hi":-36,"lo":-100},{"s":"M","f":0.3912,"hi":-52,"lo":-100},
{"s":"M","f":0.289,"hi":-20,"lo":-34},{"s":"M","f":0.296,"hi":-18,"lo":-29},{"s":"M","f":0.303,"hi":-19,"lo":-33},{"s":"M","f":0.31,"hi":-17,"lo":-27},{"s":"M","f":0.318,"hi":-18,"lo":-30},{"s":"M","f":0.329,"hi":-17,"lo":-35},{"s":"M","f":0.338,"hi":-18,"lo":-26},{"s":"M","f":0.345,"hi":-17,"lo":-31},{"s":"M","f":0.353,"hi":-19,"lo":-28},{"s":"M","f":0.361,"hi":-18,"lo":-34},{"s":"M","f":0.368,"hi":-20,"lo":-37},{"s":"M","f":0.376,"hi":-21,"lo":-30},{"s":"M","f":0.384,"hi":-24,"lo":-40},
{"s":"M","f":-0.486,"hi":-145,"lo":-156},{"s":"M","f":-0.477,"hi":-145,"lo":-165},{"s":"M","f":-0.44,"hi":-145,"lo":-155},{"s":"M","f":-0.41,"hi":-145,"lo":-152},{"s":"M","f":-0.351,"hi":-145,"lo":-174},{"s":"M","f":-0.33,"hi":-145,"lo":-153},{"s":"M","f":-0.29,"hi":-145,"lo":-156},{"s":"M","f":-0.255,"hi":-145,"lo":-152},{"s":"M","f":-0.226,"hi":-145,"lo":-174},{"s":"M","f":-0.19,"hi":-145,"lo":-155},{"s":"M","f":-0.164,"hi":-145,"lo":-160},{"s":"M","f":-0.13,"hi":-145,"lo":-153},{"s":"M","f":-0.101,"hi":-145,"lo":-173},{"s":"M","f":-0.06,"hi":-145,"lo":-152},{"s":"M","f":-0.037,"hi":-145,"lo":-158},{"s":"M","f":-0.027,"hi":-145,"lo":-157},{"s":"M","f":0.01,"hi":-145,"lo":-153},{"s":"M","f":0.025,"hi":-145,"lo":-167},{"s":"M","f":0.06,"hi":-145,"lo":-152},{"s":"M","f":0.087,"hi":-145,"lo":-158},{"s":"M","f":0.12,"hi":-145,"lo":-154},{"s":"M","f":0.15,"hi":-145,"lo":-161},{"s":"M","f":0.18,"hi":-145,"lo":-152},{"s":"M","f":0.21,"hi":-145,"lo":-158},{"s":"M","f":0.24,"hi":-145,"lo":-153},{"s":"M","f":0.27,"hi":-145,"lo":-160},{"s":"M","f":0.3,"hi":-145,"lo":-151},{"s":"M","f":0.35,"hi":-145,"lo":-154},{"s":"M","f":0.4,"hi":-145,"lo":-152},{"s":"M","f":0.43,"hi":-145,"lo":-156},{"s":"M","f":0.45,"hi":-145,"lo":-163},{"s":"M","f":0.48,"hi":-145,"lo":-153}
]
},
"layer": [
{
"encoding": {
"x": {"field": "f", "type": "quantitative", "scale": {"domain": [-0.5, 0.5], "nice": false, "zero": false},
 "axis": {"orient": "bottom", "values": [-0.5,-0.4,-0.3,-0.2,-0.1,0,0.1,0.2,0.3,0.4,0.5], "format": ".1~f", "labelExpr": "replace(datum.label, '\u2212', '-')",
  "labelFont": "Liberation Sans", "labelFontWeight": "bold", "labelFontSize": 29, "labelColor": "#111", "labelBaseline": "alphabetic", "labelPadding": 40, "labelFlush": false, "labelOverlap": false,
  "tickSize": 19, "tickColor": "#222", "tickWidth": 1.5, "domainColor": "#222", "domainWidth": 2,
  "grid": true, "gridColor": "#C8CAE3", "gridWidth": 1.2,
  "title": "Normalized Frequency", "titleFont": "Liberation Sans", "titleFontWeight": "bold", "titleFontSize": 28, "titleColor": "#111", "titleBaseline": "alphabetic", "titleY": 106}},
"y": {"field": "hi", "type": "quantitative", "stack": null, "scale": {"domain": [-180, 0], "nice": false, "zero": false},
 "axis": {"orient": "left", "values": [0,-50,-100,-150,-180], "format": "d", "labelExpr": "replace(datum.label, '\u2212', '-')",
  "labelFont": "Liberation Sans", "labelFontWeight": "bold", "labelFontSize": 24, "labelColor": "#111", "labelPadding": 5, "labelFlush": false, "labelOverlap": false,
  "tickSize": 13, "tickColor": "#222", "tickWidth": 1.5, "domainColor": "#222", "domainWidth": 2,
  "grid": true, "gridColor": "#C0C2E3", "gridWidth": 1.5,
  "title": "Spectrum(dB)", "titleFont": "DejaVu Sans", "titleFontWeight": "bold", "titleFontSize": 32, "titleColor": "#111", "titleAngle": 270, "titleAlign": "center", "titleBaseline": "alphabetic", "titleX": -78, "titleY": 131}},
"y2": {"field": "lo"},
"color": {"field": "s", "type": "nominal", "scale": {"domain": ["P","O","G","B","M"], "range": ["#F06CAB","#EF6E46","#0A7B3B","#19A1E3","#E8198D"]}, "legend": null}
},
"layer": [
{"data": {"name": "floor"}, "transform": [{"filter": "datum.s == 'B'"}], "mark": {"type": "area", "opacity": 1}},
{"data": {"name": "floor"}, "transform": [{"filter": "datum.s == 'M'"}], "mark": {"type": "area", "opacity": 1}},
{"data": {"name": "floor"}, "transform": [{"filter": "datum.s == 'G'"}], "mark": {"type": "area", "opacity": 1}},
{"data": {"name": "floor"}, "transform": [{"filter": "datum.s == 'O'"}], "mark": {"type": "area", "opacity": 1}},
{"data": {"name": "floor"}, "transform": [{"filter": "datum.s == 'P'"}], "mark": {"type": "area", "opacity": 1}},
{"data": {"name": "lines"}, "mark": {"type": "rule", "strokeWidth": 2}}
]
},
{
"data": {"values": [{"f": -0.5, "v": -180}, {"f": 0.5, "v": 0}]},
"mark": {"type": "point", "opacity": 0},
"encoding": {
"x": {"field": "f", "type": "quantitative", "scale": {"domain": [-0.5, 0.5], "nice": false, "zero": false},
 "axis": {"orient": "bottom", "values": [-0.48,-0.46,-0.44,-0.42,-0.38,-0.36,-0.34,-0.32,-0.28,-0.26,-0.24,-0.22,-0.18,-0.16,-0.14,-0.12,-0.08,-0.06,-0.04,-0.02,0.02,0.04,0.06,0.08,0.12,0.14,0.16,0.18,0.22,0.24,0.26,0.28,0.32,0.34,0.36,0.38,0.42,0.44,0.46,0.48],
  "labels": false, "domain": false, "grid": false, "tickSize": 10, "tickColor": "#222", "tickWidth": 1.2, "title": null}},
"y": {"field": "v", "type": "quantitative", "scale": {"domain": [-180, 0], "nice": false, "zero": false},
 "axis": {"orient": "left", "values": [-10,-20,-30,-40,-60,-70,-80,-90,-110,-120,-130,-140,-160,-170],
  "labels": false, "domain": false, "grid": false, "tickSize": 7, "tickColor": "#222", "tickWidth": 1.2, "title": null}}
}
},
{
"data": {"values": [{"hz": -2000000}, {"hz": 2000000}]},
"mark": {"type": "point", "opacity": 0},
"encoding": {
"x": {"field": "hz", "type": "quantitative", "scale": {"domain": [-2000000, 2000000], "nice": false, "zero": false},
 "axis": {"orient": "bottom", "offset": 121, "values": [-2000000,-1000000,0,1000000,2000000], "format": "d", "labelExpr": "replace(datum.label, '\u2212', '-')",
  "labelFont": "Liberation Sans", "labelFontWeight": "bold", "labelFontSize": 26, "labelColor": "#111", "labelBaseline": "alphabetic", "labelPadding": 38, "labelFlush": false, "labelOverlap": false,
  "tickSize": 20, "tickColor": "#555", "tickWidth": 1.5, "domainColor": "#555", "domainWidth": 2.5,
  "grid": true, "gridColor": "#C8CAE3", "gridWidth": 1.2,
  "title": "Frequensy(HZ)", "titleFont": "Liberation Sans", "titleFontWeight": "bold", "titleFontSize": 28, "titleColor": "#111", "titleBaseline": "alphabetic", "titleY": 105}}
}
}
],
"resolve": {"scale": {"x": "independent"}, "axis": {"x": "independent", "y": "independent"}}
}
